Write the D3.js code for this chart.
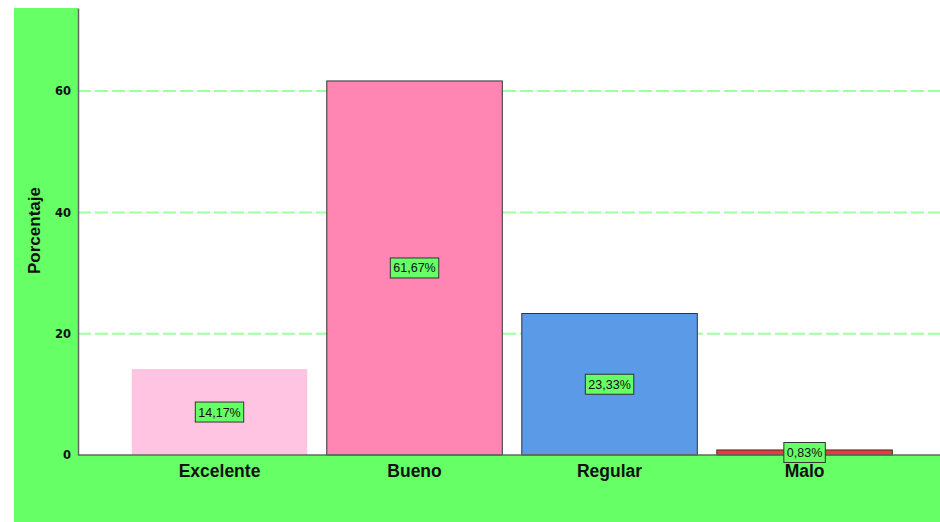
<!DOCTYPE html>
<html>
<head>
<meta charset="utf-8">
<script src="https://cdn.jsdelivr.net/npm/d3@7"></script>
<style>
  body { margin: 0; background: #fff; }
  text { font-family: "Liberation Sans", Arial, sans-serif; }
</style>
</head>
<body>
<script>
// chart data
const categories = ['Excelente', 'Bueno', 'Regular', 'Malo'];
const values = [14.17, 61.67, 23.33, 0.83];
const labels = ['14,17%', '61,67%', '23,33%', '0,83%'];
const barColors = ['#ffc4e1', '#ff85b3', '#5a9ae6', '#ec3a35'];
const barStrokes = ['none', '#333', '#333', '#333'];
const yTicks = [0, 20, 40, 60];

const width = 940;
const height = 522;
const plotLeft = 78, plotTop = 8, plotBottom = 455;

const svg = d3.select('body').append('svg')
  .attr('width', width)
  .attr('height', height);

// green frame
svg.append('rect')
  .attr('x', 14).attr('y', plotTop)
  .attr('width', width - 14).attr('height', height - plotTop)
  .attr('fill', '#66ff66');

// plot area
svg.append('rect')
  .attr('x', plotLeft).attr('y', plotTop)
  .attr('width', width - plotLeft).attr('height', plotBottom - plotTop)
  .attr('fill', '#fff');

const y = d3.scaleLinear()
  .domain([0, 73.7])
  .range([plotBottom, plotTop]);

const x = d3.scaleBand()
  .domain(categories)
  .range([plotLeft, width])
  .paddingInner(0.1)
  .paddingOuter(0.26)
  .align(0.53);

// grid lines
svg.append('g')
  .selectAll('line')
  .data(yTicks.filter((d) => d > 0))
  .enter()
  .append('line')
  .attr('x1', plotLeft)
  .attr('x2', width)
  .attr('y1', (d) => y(d))
  .attr('y2', (d) => y(d))
  .attr('stroke', '#a0ffa0')
  .attr('stroke-width', 2)
  .attr('stroke-dasharray', '13,4');

// bars
svg.append('g')
  .selectAll('rect')
  .data(values)
  .enter()
  .append('rect')
  .attr('x', (d, i) => x(categories[i]))
  .attr('y', (d) => y(d))
  .attr('width', x.bandwidth())
  .attr('height', (d) => plotBottom - y(d))
  .attr('fill', (d, i) => barColors[i])
  .attr('stroke', (d, i) => barStrokes[i])
  .attr('stroke-width', 1);

// axes
const yAxis = svg.append('g')
  .attr('transform', `translate(${plotLeft},0)`)
  .call(d3.axisLeft(y).tickValues(yTicks).tickSize(0).tickPadding(7).tickFormat(d3.format('d')));
yAxis.select('.domain').attr('stroke', '#666').attr('stroke-width', 1.5);
yAxis.selectAll('text')
  .attr('font-size', 11.5)
  .attr('font-weight', 'bold')
  .attr('fill', '#111')
  .style('font-family', '"DejaVu Sans", sans-serif');

const xAxis = svg.append('g')
  .attr('transform', `translate(0,${plotBottom})`)
  .call(d3.axisBottom(x).tickSize(0).tickPadding(10));
xAxis.select('.domain').attr('d', `M${plotLeft},0H${width}`).attr('stroke', '#666').attr('stroke-width', 1.5);
xAxis.selectAll('text')
  .attr('font-size', 17.5)
  .attr('font-weight', 'bold')
  .attr('fill', '#111');

// y title
svg.append('text')
  .attr('transform', `translate(40,${(plotTop + plotBottom) / 2 - 1}) rotate(-90)`)
  .attr('text-anchor', 'middle')
  .attr('font-size', 17)
  .attr('font-weight', 'bold')
  .attr('fill', '#111')
  .text('Porcentaje');

// value labels
const lab = svg.append('g')
  .selectAll('g')
  .data(values)
  .enter()
  .append('g')
  .attr('transform', (d, i) => `translate(${x(categories[i]) + x.bandwidth() / 2},${(y(d) + plotBottom) / 2})`);

const boxes = lab.append('rect')
  .attr('fill', '#66ff66')
  .attr('stroke', '#333')
  .attr('stroke-width', 1);

const txt = lab.append('text')
  .attr('text-anchor', 'middle')
  .attr('dy', '0.36em')
  .attr('font-size', 12.5)
  .attr('fill', '#111')
  .text((d, i) => labels[i]);

// size the boxes around the texts
txt.each(function (d, i) {
  const w = this.getComputedTextLength() + 6;
  d3.select(boxes.nodes()[i])
    .attr('x', -w / 2).attr('y', -10)
    .attr('width', w).attr('height', 20);
});
</script>
</body>
</html>
